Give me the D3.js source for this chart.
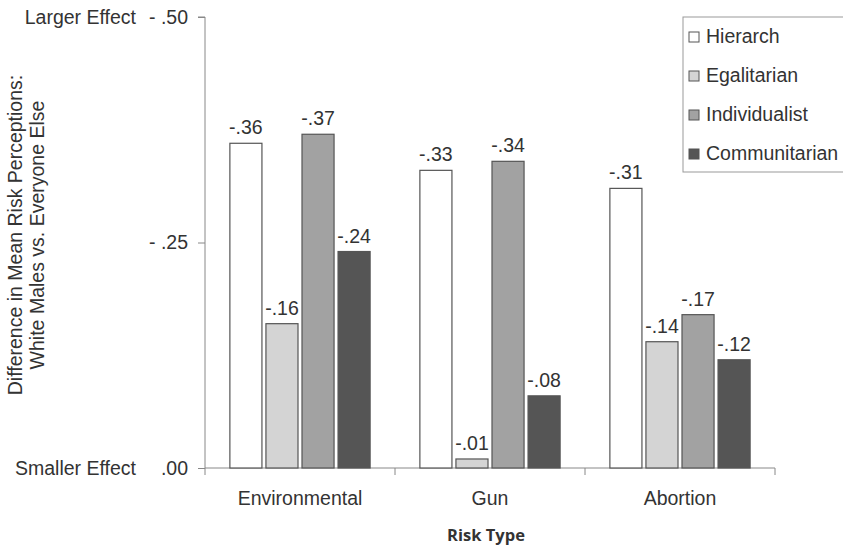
<!DOCTYPE html>
<html><head><meta charset="utf-8">
<script src="https://cdn.jsdelivr.net/npm/d3@7/dist/d3.min.js"></script>
<style>body{margin:0;background:#fff}svg{display:block}</style>
</head><body>
<svg id="c" width="843" height="549"></svg>
<script>
const categories = ["Environmental", "Gun", "Abortion"];
const seriesNames = ["Hierarch", "Egalitarian", "Individualist", "Communitarian"];
const hierarch = [0.36, 0.33, 0.31];
const egalitarian = [0.16, 0.01, 0.14];
const individualist = [0.37, 0.34, 0.17];
const communitarian = [0.24, 0.08, 0.12];
const valueLabels = [["-.36","-.33","-.31"],["-.16","-.01","-.14"],["-.37","-.34","-.17"],["-.24","-.08","-.12"]];
const yTicks = [0, 0.25, 0.5];
const yTickLabels = [".00", "- .25", "- .50"];
const yEndLabels = ["Smaller Effect", "Larger Effect"];
const colors = ["#ffffff", "#d4d4d4", "#a2a2a2", "#555555"];

const series = [hierarch, egalitarian, individualist, communitarian];
const svg = d3.select("#c");
const font = "'Liberation Sans', Arial, sans-serif";
const FS = 19.5;
const L = 205, R = 775, T = 17, B = 468;

const y = d3.scaleLinear().domain([0, 0.5]).range([B, T]);
const x0 = d3.scaleBand().domain(categories).range([L, R]);
const x1 = d3.scaleBand().domain(seriesNames).range([0, x0.bandwidth()]).paddingInner(0.111).paddingOuter(0.69);

// axes
const yAxis = svg.append("g").attr("transform", `translate(${L},0)`)
  .call(d3.axisLeft(y).tickValues(yTicks).tickSize(7).tickFormat((d,i)=>yTickLabels[i]).tickPadding(10));
yAxis.selectAll("path,line").attr("stroke", "#888");
yAxis.selectAll("text").attr("font-family", font).attr("font-size", FS).attr("fill", "#333");
yAxis.select(".domain").attr("d", `M-7,${T}H0V${B}`);

const xAxis = svg.append("g").attr("transform", `translate(0,${B})`);
xAxis.append("line").attr("x1", L).attr("x2", R).attr("stroke", "#888");
const bounds = categories.map(c => x0(c)).concat([x0(categories[categories.length-1]) + x0.bandwidth()]);
xAxis.selectAll("line.t").data(bounds).join("line").attr("class","t")
  .attr("x1", d=>d).attr("x2", d=>d).attr("y1", 0).attr("y2", 7).attr("stroke", "#888");
xAxis.selectAll("text").data(categories).join("text")
  .attr("x", d => x0(d) + x0.bandwidth()/2).attr("y", 37)
  .attr("text-anchor", "middle").attr("font-family", font).attr("font-size", FS).attr("fill", "#333")
  .text(d => d);

// end labels
svg.selectAll("text.end").data(yEndLabels).join("text").attr("class","end")
  .attr("x", 136).attr("y", (d,i)=> y(yTicks[i*2]) + 7)
  .attr("text-anchor", "end").attr("font-family", font).attr("font-size", FS).attr("fill", "#333")
  .text(d=>d);

// bars
const g = svg.append("g");
series.forEach((vals, si) => {
  const gs = g.append("g");
  gs.selectAll("rect").data(vals).join("rect")
    .attr("x", (d,i) => x0(categories[i]) + x1(seriesNames[si]))
    .attr("y", d => y(d))
    .attr("width", x1.bandwidth())
    .attr("height", d => B - y(d))
    .attr("fill", colors[si]).attr("stroke", "#555").attr("stroke-width", 1.2);
  gs.selectAll("text").data(vals).join("text")
    .attr("x", (d,i) => x0(categories[i]) + x1(seriesNames[si]) + x1.bandwidth()/2)
    .attr("y", d => y(d) - 9)
    .attr("text-anchor", "middle").attr("font-family", font).attr("font-size", FS).attr("fill", "#333")
    .text((d,i) => valueLabels[si][i]);
});

// y title
const yt = svg.append("text").attr("transform", `translate(22,235) rotate(-90)`)
  .attr("text-anchor", "middle").attr("font-family", font).attr("font-size", FS).attr("fill", "#333");
yt.append("tspan").attr("x", 0).attr("y", 0).text("Difference in Mean Risk Perceptions:");
yt.append("tspan").attr("x", 0).attr("y", 22).text("White Males vs. Everyone Else");

// x title
svg.append("text").attr("x", 486).attr("y", 541).attr("text-anchor", "middle")
  .attr("font-family", "'Open Sans', sans-serif").attr("font-weight", "bold").attr("font-size", 16.5).attr("fill", "#333")
  .text("Risk Type");

// legend
const lg = svg.append("g");
lg.append("rect").attr("x", 683).attr("y", 17).attr("width", 170).attr("height", 155)
  .attr("fill", "#fff").attr("stroke", "#999");
seriesNames.forEach((n, i) => {
  const base = 43 + i * 39;
  lg.append("rect").attr("x", 689).attr("y", base - 11).attr("width", 10).attr("height", 10)
    .attr("fill", colors[i]).attr("stroke", "#555");
  lg.append("text").attr("x", 706).attr("y", base).attr("font-family", font).attr("font-size", FS).attr("fill", "#333").text(n);
});
</script>
</body></html>
